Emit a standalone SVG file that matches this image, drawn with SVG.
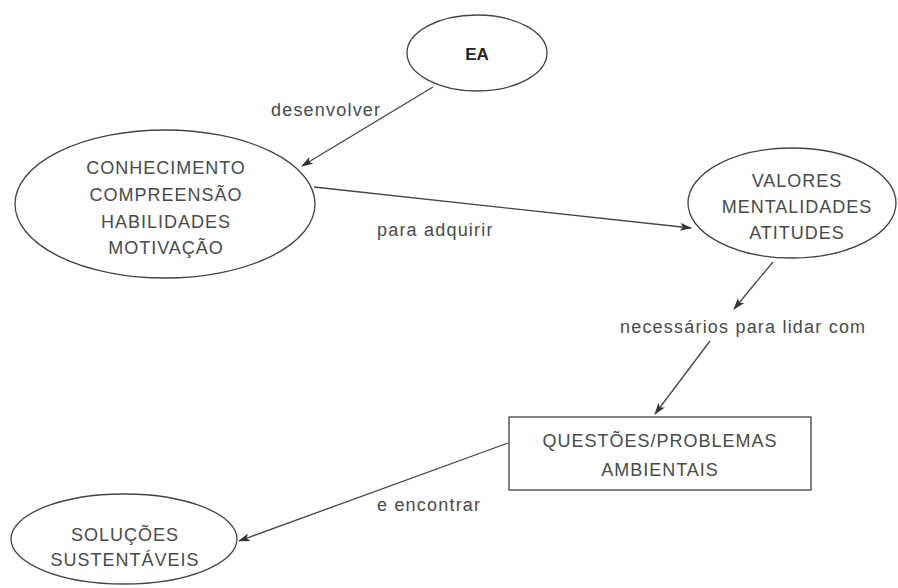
<svg xmlns="http://www.w3.org/2000/svg" width="898" height="588" viewBox="0 0 898 588">
<defs>
<marker id="arr" viewBox="0 0 12 8" refX="11" refY="4" markerWidth="12" markerHeight="8" markerUnits="userSpaceOnUse" orient="auto">
<path d="M0,0 L12,4 L0,8 L3,4 Z" fill="#333"/>
</marker>
</defs>
<style>
.shape{fill:#fff;stroke:#444;stroke-width:1.3}
.node{font-family:"Liberation Sans",Arial,sans-serif;font-size:18px;fill:#4a4a4a;text-anchor:middle;letter-spacing:1px}
.lbl{font-family:"Liberation Sans",Arial,sans-serif;font-size:18px;fill:#4a4a4a;text-anchor:start;letter-spacing:1.2px}
.edge{stroke:#444;stroke-width:1.3;fill:none;marker-end:url(#arr)}
</style>
<rect width="898" height="588" fill="#fff"/>
<g id="connectors">
<line class="edge" x1="433" y1="87" x2="302" y2="166"/>
<line class="edge" x1="314" y1="187" x2="691" y2="228"/>
<line class="edge" x1="773" y1="262" x2="734" y2="309"/>
<line class="edge" x1="710" y1="341" x2="655" y2="414"/>
<line class="edge" x1="508" y1="443" x2="239" y2="541"/>
<text class="lbl" x="271" y="116">desenvolver</text>
<text class="lbl" x="377" y="236">para adquirir</text>
<text class="lbl" x="620" y="333">necessários para lidar com</text>
<text class="lbl" x="377" y="511">e encontrar</text>
</g>
<g id="ea">
<ellipse class="shape" cx="477" cy="53" rx="70" ry="38"/>
<text class="node" x="477" y="60" font-weight="bold" style="font-size:17px;letter-spacing:0;fill:#222">EA</text>
</g>
<g id="conhecimento">
<ellipse class="shape" cx="165" cy="204" rx="150" ry="74"/>
<text class="node" x="166" y="174">CONHECIMENTO</text>
<text class="node" x="166" y="201">COMPREENSÃO</text>
<text class="node" x="166" y="228">HABILIDADES</text>
<text class="node" x="166" y="254">MOTIVAÇÃO</text>
</g>
<g id="valores">
<ellipse class="shape" cx="792" cy="203" rx="104" ry="55"/>
<text class="node" x="797" y="187">VALORES</text>
<text class="node" x="797" y="213">MENTALIDADES</text>
<text class="node" x="797" y="239">ATITUDES</text>
</g>
<g id="questoes">
<rect class="shape" x="509" y="417" width="302" height="73"/>
<text class="node" x="660" y="447">QUESTÕES/PROBLEMAS</text>
<text class="node" x="660" y="476">AMBIENTAIS</text>
</g>
<g id="solucoes">
<ellipse class="shape" cx="124" cy="539" rx="113" ry="45"/>
<text class="node" x="125" y="541">SOLUÇÕES</text>
<text class="node" x="125" y="566">SUSTENTÁVEIS</text>
</g>
</svg>
